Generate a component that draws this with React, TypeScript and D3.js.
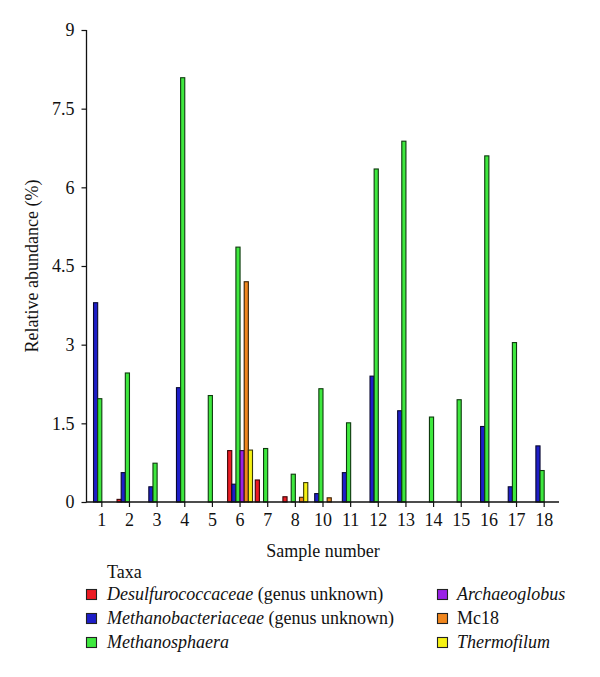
import React, { useEffect, useRef } from "react";
import * as d3 from "d3";

const samples = ["1", "2", "3", "4", "5", "6", "7", "8", "10", "11", "12", "13", "14", "15", "16", "17", "18"];
const desulfurococcaceae = [0, 0.05, 0, 0, 0, 0.98, 0.42, 0.1, 0, 0, 0, 0, 0, 0, 0, 0, 0];
const methanobacteriaceae = [3.8, 0.56, 0.29, 2.18, 0, 0.34, 0, 0, 0.16, 0.56, 2.4, 1.74, 0, 0, 1.44, 0.29, 1.07];
const methanosphaera = [1.97, 2.46, 0.74, 8.09, 2.03, 4.86, 1.02, 0.53, 2.16, 1.51, 6.35, 6.88, 1.62, 1.95, 6.6, 3.04, 0.6];
const archaeoglobus = [0, 0, 0, 0, 0, 0.98, 0, 0, 0, 0, 0, 0, 0, 0, 0, 0, 0];
const mc18 = [0, 0, 0, 0, 0, 4.2, 0, 0.09, 0.08, 0, 0, 0, 0, 0, 0, 0, 0];
const thermofilum = [0, 0, 0, 0, 0, 0.99, 0, 0.37, 0, 0, 0, 0, 0, 0, 0, 0, 0];
const yTicks = [0, 1.5, 3, 4.5, 6, 7.5, 9];

const seriesKeys = ["desulfurococcaceae", "methanobacteriaceae", "methanosphaera", "archaeoglobus", "mc18", "thermofilum"];
const seriesValues = [desulfurococcaceae, methanobacteriaceae, methanosphaera, archaeoglobus, mc18, thermofilum];
const seriesColors = ["#ec1c24", "#1e1ec8", "#3ee83e", "#9a22e6", "#f0861e", "#f6f214"];
const seriesStrokes = ["#3a0606", "#080830", "#0e3a0e", "#260838", "#3a2206", "#3a3a06"];

const W = 600;
const H = 677;
const FONT = "Liberation Serif, DejaVu Serif, Noto Serif, Times New Roman, serif";
const FS = 18;

export default function App() {
  const gx = useRef<SVGGElement>(null);
  const gy = useRef<SVGGElement>(null);

  const x0 = d3.scaleBand<string>().domain(samples).range([88, 558]).padding(0);
  const x1 = d3
    .scaleBand<string>()
    .domain(seriesKeys)
    .range([x0.bandwidth() * 0.05, x0.bandwidth() * 0.95])
    .padding(0);
  const y = d3.scaleLinear().domain([0, 9]).range([502, 30]);

  useEffect(() => {
    if (gx.current) {
      const ax = d3.axisBottom(x0).tickSize(5).tickSizeOuter(0).tickPadding(6);
      const s = d3.select(gx.current);
      s.call(ax as any);
      s.attr("font-family", FONT);
      s.select(".domain").remove();
      s.selectAll("line").attr("stroke", "#111").attr("stroke-width", 1.2);
      s.selectAll("text").attr("font-family", FONT).attr("font-size", FS).attr("fill", "#111");
    }
    if (gy.current) {
      const ay = d3
        .axisLeft(y)
        .tickValues(yTicks)
        .tickSize(5)
        .tickSizeOuter(0)
        .tickPadding(7)
        .tickFormat((d: any) => String(d));
      const s = d3.select(gy.current);
      s.call(ay as any);
      s.attr("font-family", FONT);
      s.select(".domain").remove();
      s.selectAll("line").attr("stroke", "#111").attr("stroke-width", 1.2);
      s.selectAll("text").attr("font-family", FONT).attr("font-size", FS).attr("fill", "#111");
    }
  }, []);

  const legendLeft = [0, 1, 2];
  const legendRight = [3, 4, 5];
  const legendLabels: React.ReactNode[] = [
    <>
      <tspan fontStyle="italic">Desulfurococcaceae</tspan> (genus unknown)
    </>,
    <>
      <tspan fontStyle="italic">Methanobacteriaceae</tspan> (genus unknown)
    </>,
    <tspan fontStyle="italic">Methanosphaera</tspan>,
    <tspan fontStyle="italic">Archaeoglobus</tspan>,
    <>Mc18</>,
    <tspan fontStyle="italic">Thermofilum</tspan>,
  ];
  const rowY = [594, 618, 642];

  return (
    <svg
      width={W}
      height={H}
      style={{ position: "absolute", left: 0, top: 0, background: "#fff", fontFamily: FONT }}
    >
      <rect width={W} height={H} fill="#fff" />
      {samples.map((s, i) => (
        <g key={s} transform={`translate(${x0(s)},0)`}>
          {seriesKeys.map((k, j) => {
            const v = seriesValues[j][i];
            if (!v) return null;
            return (
              <rect
                key={k}
                x={x1(k)}
                y={y(v)}
                width={x1.bandwidth()}
                height={y(0) - y(v)}
                fill={seriesColors[j]}
                stroke={seriesStrokes[j]}
                strokeWidth={1.1}
              />
            );
          })}
        </g>
      ))}
      <line x1={86.5} x2={86.5} y1={y(9)} y2={y(0)} stroke="#111" strokeWidth={1.3} />
      <line x1={86} x2={559} y1={y(0)} y2={y(0)} stroke="#111" strokeWidth={1.3} />
      <g ref={gx} transform={`translate(0,${y(0)})`} />
      <g ref={gy} transform={`translate(86.5,0)`} />
      <text
        transform={`translate(38,${(y(0) + y(9)) / 2}) rotate(-90)`}
        textAnchor="middle"
        fontSize={FS}
        fill="#111"
        fontFamily={FONT}
      >
        Relative abundance (%)
      </text>
      <text x={323} y={557} textAnchor="middle" fontSize={FS} fill="#111" fontFamily={FONT}>
        Sample number
      </text>
      <text x={107} y={578} fontSize={FS} fill="#111" fontFamily={FONT}>
        Taxa
      </text>
      {legendLeft.map((j, r) => (
        <g key={j}>
          <rect x={86.5} y={rowY[r] - 4.5} width={10} height={10} fill={seriesColors[j]} stroke="#222" strokeWidth={1.1} />
          <text x={107} y={rowY[r] + 6} fontSize={FS} fill="#111" fontFamily={FONT}>
            {legendLabels[j]}
          </text>
        </g>
      ))}
      {legendRight.map((j, r) => (
        <g key={j}>
          <rect x={437.5} y={rowY[r] - 4.5} width={10} height={10} fill={seriesColors[j]} stroke="#222" strokeWidth={1.1} />
          <text x={457} y={rowY[r] + 6} fontSize={FS} fill="#111" fontFamily={FONT}>
            {legendLabels[j]}
          </text>
        </g>
      ))}
    </svg>
  );
}
